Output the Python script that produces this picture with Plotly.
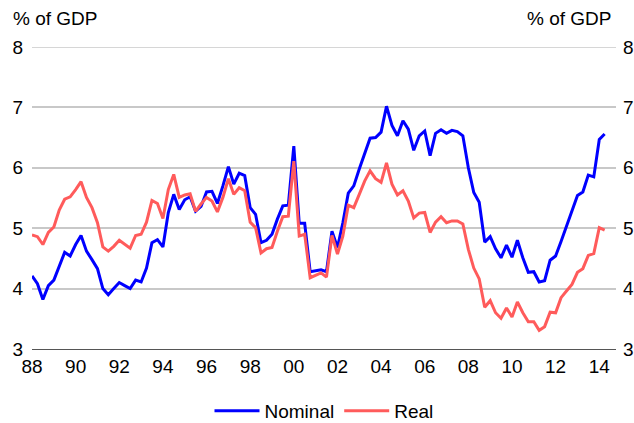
import plotly.graph_objects as go
import pandas as pd

FONT = 'Liberation Sans, Arial, sans-serif'

quarters = pd.date_range('1988-01-01', periods=106, freq='QS')

nominal = [
    4.21, 4.08, 3.82, 4.05,
    4.14, 4.37, 4.60, 4.54,
    4.73, 4.88, 4.62, 4.48,
    4.33, 4.00, 3.90, 4.00,
    4.10, 4.05, 4.00, 4.14,
    4.11, 4.34, 4.76, 4.81,
    4.69, 5.26, 5.56, 5.31,
    5.47, 5.52, 5.28, 5.36,
    5.60, 5.61, 5.41, 5.70,
    6.02, 5.73, 5.91, 5.87,
    5.34, 5.23, 4.76, 4.80,
    4.90, 5.15, 5.37, 5.38,
    6.36, 5.08, 5.08, 4.28,
    4.30, 4.31, 4.28, 4.95,
    4.68, 5.09, 5.58, 5.70,
    5.98, 6.23, 6.49, 6.50,
    6.59, 7.02, 6.70, 6.53,
    6.78, 6.64, 6.29, 6.53,
    6.61, 6.20, 6.57, 6.63,
    6.57, 6.62, 6.60, 6.53,
    6.00, 5.59, 5.43, 4.77,
    4.86, 4.66, 4.51, 4.72,
    4.52, 4.80, 4.51, 4.27,
    4.28, 4.11, 4.13, 4.47,
    4.54, 4.78, 5.02, 5.28,
    5.54, 5.60, 5.88, 5.85,
    6.47, 6.56,
]

real = [
    4.89, 4.86, 4.73, 4.93,
    5.02, 5.30, 5.48, 5.52,
    5.64, 5.77, 5.51, 5.34,
    5.09, 4.69, 4.62, 4.70,
    4.80, 4.73, 4.67, 4.88,
    4.90, 5.10, 5.46, 5.41,
    5.16, 5.64, 5.89, 5.51,
    5.55, 5.57, 5.28, 5.40,
    5.51, 5.45, 5.27, 5.51,
    5.82, 5.56, 5.67, 5.62,
    5.10, 5.01, 4.59, 4.66,
    4.68, 4.95, 5.19, 5.20,
    6.11, 4.87, 4.90, 4.18,
    4.22, 4.26, 4.19, 4.88,
    4.57, 4.87, 5.38, 5.34,
    5.56, 5.78, 5.95, 5.82,
    5.76, 6.08, 5.73, 5.55,
    5.62, 5.45, 5.17, 5.25,
    5.26, 4.93, 5.10, 5.19,
    5.09, 5.12, 5.12, 5.07,
    4.65, 4.34, 4.16, 3.69,
    3.80, 3.60, 3.51, 3.68,
    3.53, 3.78, 3.60, 3.45,
    3.45, 3.31, 3.37, 3.61,
    3.60, 3.85, 3.96, 4.07,
    4.27, 4.33, 4.55, 4.58,
    5.01, 4.97,
]

GRID = '#C8C8C8'

fig = go.Figure()

fig.add_trace(go.Scatter(
    x=quarters, y=nominal, mode='lines', name='Nominal',
    line=dict(color='#0000FF', width=3),
))
fig.add_trace(go.Scatter(
    x=quarters, y=real, mode='lines', name='Real', yaxis='y2',
    line=dict(color='#FF5B5B', width=3),
))

fig.update_layout(
    width=634, height=423,
    margin=dict(l=32, r=18, t=47, b=74, autoexpand=False),
    paper_bgcolor='white', plot_bgcolor='white',
    font=dict(family=FONT, size=19, color='black'),
    showlegend=True,
    legend=dict(orientation='h', x=0.5, xanchor='center', y=-0.205, yanchor='middle',
                font=dict(size=19), itemwidth=45),
    xaxis=dict(
        type='date', range=['1988-01-01', '2014-10-08'],
        tickformat='%y', dtick='M24', tick0='1988-01-01',
        tickfont=dict(size=19, color='black'),
        showgrid=False, showline=True, linecolor='#555555', linewidth=1.3,
        ticks='', automargin=False,
    ),
    yaxis=dict(
        side='left', range=[3, 8], dtick=1, tickfont=dict(size=19, color='black'),
        showgrid=True, gridcolor=GRID, gridwidth=1.5,
        zeroline=False, ticklabelstandoff=8, automargin=False,
    ),
    yaxis2=dict(
        side='right', overlaying='y', range=[3, 8], dtick=1,
        tickfont=dict(size=19, color='black'),
        showgrid=False, zeroline=False, ticklabelstandoff=6, automargin=False,
    ),
)

# plotly drops the gridline sitting on the top edge, so draw that one by hand
fig.add_hline(y=8, line=dict(color=GRID, width=1.5), layer='below')

fig.add_annotation(text='% of GDP', xref='paper', yref='paper', x=0, y=1.096,
                   xanchor='left', yanchor='middle', xshift=-21, showarrow=False,
                   font=dict(size=19))
fig.add_annotation(text='% of GDP', xref='paper', yref='paper', x=1, y=1.096,
                   xanchor='right', yanchor='middle', xshift=-3, showarrow=False,
                   font=dict(size=19))

# the page's default 8px body margin would push the fixed-size figure off the window
fig.write_html("out.html", config={'displayModeBar': False},
               post_script="document.body.style.margin='0';")
